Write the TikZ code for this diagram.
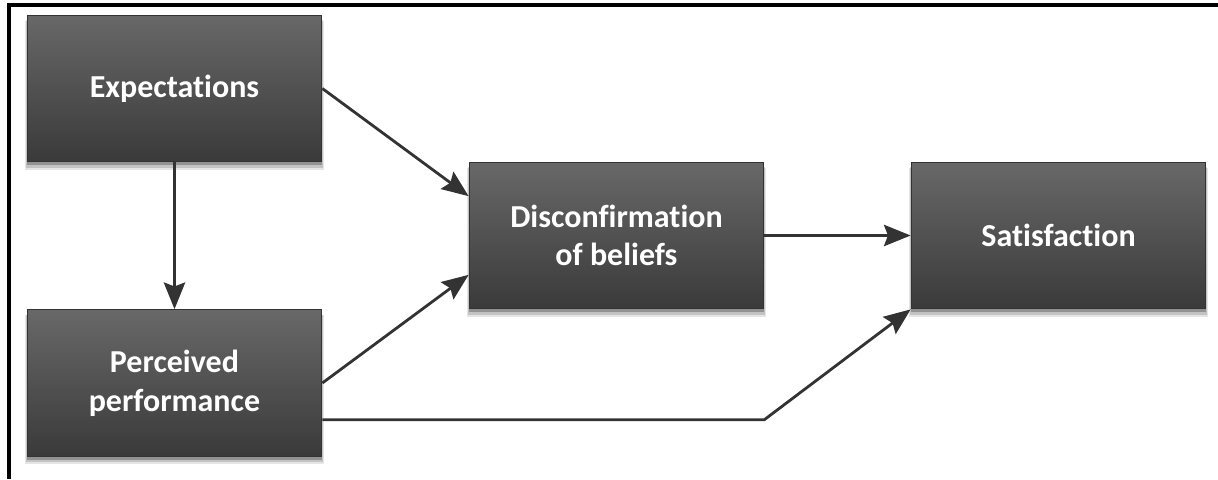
\documentclass[tikz,border=0pt]{standalone}
\usepackage{fontspec}
\setmainfont{Carlito}[Ligatures=NoCommon]
\usetikzlibrary{arrows.meta,shadows,calc}
\definecolor{boxtop}{HTML}{686868}
\definecolor{boxbot}{HTML}{3A3A3A}
\definecolor{boxline}{HTML}{333333}
\definecolor{arrowcol}{HTML}{333333}
\tikzset{
  box/.style={rectangle, draw=boxline, line width=0.8pt,
    top color=boxtop, bottom color=boxbot,
    minimum width=221pt, minimum height=110pt,
    text=white, align=center,
    font=\fontsize{24}{29}\selectfont\bfseries,
    drop shadow={shadow xshift=0pt, shadow yshift=-5pt, shadow scale=1.015, opacity=0.10, fill=black},
    drop shadow={shadow xshift=0pt, shadow yshift=-4pt, shadow scale=1.005, opacity=0.15, fill=black},
    drop shadow={shadow xshift=0pt, shadow yshift=-2.5pt, opacity=0.25, fill=black}},
  conn/.style={draw=arrowcol, line width=2.1pt,
    -{Stealth[length=20pt,width=16pt,inset=3pt]}},
  frame/.style={draw=black, line width=2.4pt}
}
\begin{document}
\begin{tikzpicture}[x=0.75pt,y=-0.75pt]
\useasboundingbox (0,0) rectangle (1218,479);
\coordinate (ftl) at (9,5);
\coordinate (ftr) at (1218,5);
\coordinate (fbl) at (9,479);
\draw[frame] (ftr) -- (ftl) -- (fbl);

\node[box] (exp) at (174.5,88.5) {Expectations};
\node[box] (perc) at (174.5,383) {Perceived\\performance};
\node[box] (disc) at (616.5,235.5) {Disconfirmation\\of beliefs};
\node[box] (sat) at (1058.5,235.5) {Satisfaction};

\draw[conn] (exp.south) -- (perc.north);
\draw[conn] (exp.east) -- ([yshift=29.5pt]disc.west);
\draw[conn] (perc.east) -- ([yshift=-29.5pt]disc.west);
\draw[conn] (disc.east) -- (sat.west);
\draw[conn] ([yshift=-27.5pt]perc.east) -- ([yshift=-27.5pt]perc.east -| disc.east) -- (sat.south west);
\end{tikzpicture}
\end{document}
